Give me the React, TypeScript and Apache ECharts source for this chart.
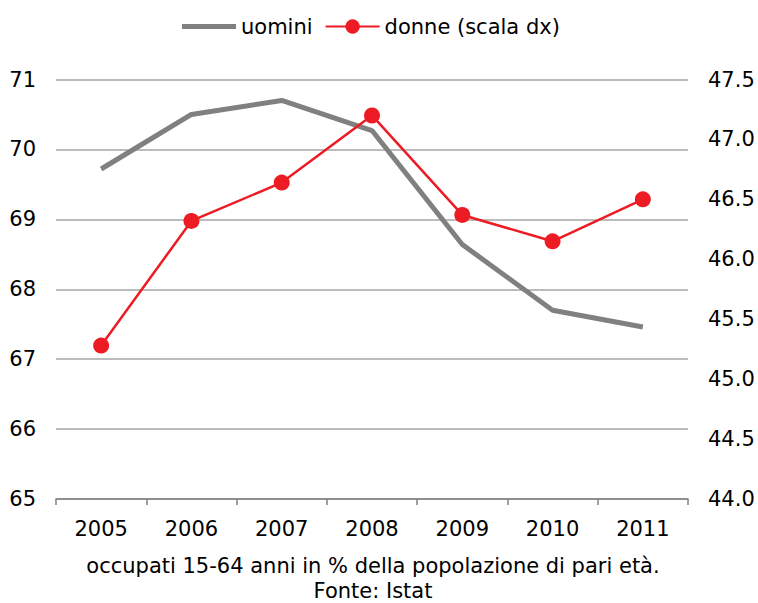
import React, { useEffect, useRef } from "react";
import * as echarts from "echarts";

const years = ["2005", "2006", "2007", "2008", "2009", "2010", "2011"];
const uomini = [69.72, 70.5, 70.7, 70.27, 68.64, 67.7, 67.46];
const donne = [45.28, 46.32, 46.64, 47.2, 46.37, 46.15, 46.5];
const captionLine1 = "occupati 15-64 anni in % della popolazione di pari età.";
const captionLine2 = "Fonte: Istat";

const FONT = "'DejaVu Sans', Verdana, sans-serif";
const GRAY = "#808080";
const RED = "#ED1C24";

export default function App() {
  const ref = useRef<HTMLDivElement>(null);
  useEffect(() => {
    if (!ref.current) return;
    const chart = echarts.init(ref.current, undefined, { renderer: "svg" });
    chart.setOption({
      animation: false,
      backgroundColor: "#fff",
      textStyle: { fontFamily: FONT },
      legend: {
        top: 11,
        left: 177,
        itemWidth: 54,
        itemHeight: 18,
        itemGap: 12,
        textStyle: { fontSize: 21, color: "#000", fontFamily: FONT },
        data: [
          { name: "uomini", icon: "path://M0,0 L54,0 L54,5 L0,5 Z", itemStyle: { color: GRAY } },
          { name: "donne (scala dx)" },
        ],
      },
      grid: { left: 56, right: 70, top: 79.5, bottom: 104 },
      xAxis: {
        type: "category",
        data: years,
        boundaryGap: true,
        axisLine: { show: true, lineStyle: { color: GRAY, width: 1.5 } },
        axisTick: { show: true, length: 6, lineStyle: { color: GRAY, width: 1.5 } },
        axisLabel: { fontSize: 21, color: "#000", margin: 19, fontFamily: FONT },
      },
      yAxis: [
        {
          type: "value",
          min: 65,
          max: 71,
          interval: 1,
          axisLine: { show: false },
          axisTick: { show: false },
          axisLabel: { fontSize: 21, color: "#000", margin: 20, fontFamily: FONT },
          splitLine: { show: true, lineStyle: { color: "#a6a6a6", width: 1.5 } },
        },
        {
          type: "value",
          min: 44,
          max: 47.5,
          interval: 0.5,
          position: "right",
          alignTicks: false,
          axisLine: { show: false },
          axisTick: { show: false },
          splitLine: { show: false },
          axisLabel: {
            fontSize: 21,
            color: "#000",
            margin: 20,
            fontFamily: FONT,
            formatter: (v: number) => v.toFixed(1),
          },
        },
      ],
      series: [
        {
          name: "uomini",
          type: "line",
          yAxisIndex: 0,
          data: uomini,
          symbol: "none",
          lineStyle: { color: GRAY, width: 5 },
          itemStyle: { color: GRAY },
        },
        {
          name: "donne (scala dx)",
          type: "line",
          yAxisIndex: 1,
          data: donne,
          symbol: "circle",
          symbolSize: 16,
          lineStyle: { color: RED, width: 2.5 },
          itemStyle: { color: RED },
        },
      ],
      graphic: [
        {
          type: "text",
          style: {
            text: captionLine1,
            x: 373,
            y: 566,
            fontSize: 21,
            fontFamily: FONT,
            fill: "#000",
            textAlign: "center",
            textVerticalAlign: "middle",
          },
        },
        {
          type: "text",
          style: {
            text: captionLine2,
            x: 373,
            y: 591,
            fontSize: 21,
            fontFamily: FONT,
            fill: "#000",
            textAlign: "center",
            textVerticalAlign: "middle",
          },
        },
      ],
    });
    return () => chart.dispose();
  }, []);
  return (
    <div
      ref={ref}
      style={{ position: "fixed", left: 0, top: 0, width: 758, height: 603 }}
    />
  );
}
